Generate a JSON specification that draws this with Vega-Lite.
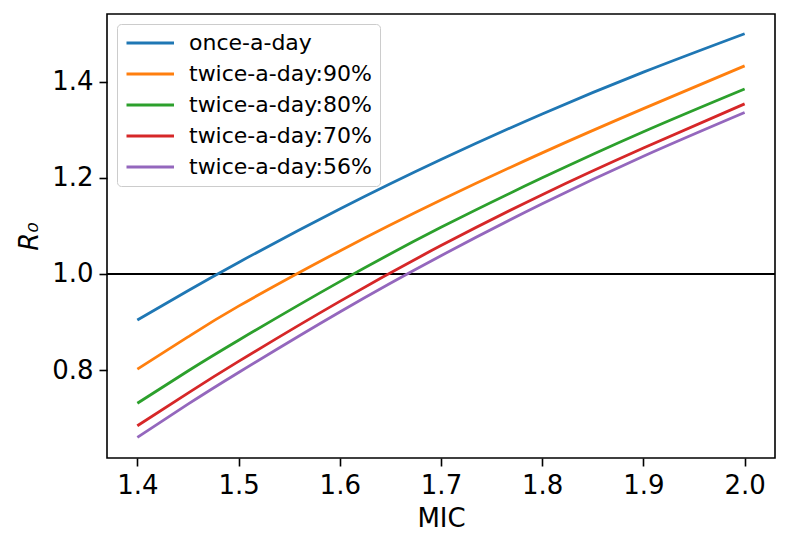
{
  "$schema": "https://vega.github.io/schema/vega-lite/v6.json",
  "width": 668,
  "height": 444,
  "autosize": {"type": "none"},
  "padding": {"left": 107, "top": 14, "right": 15, "bottom": 88},
  "background": "white",
  "config": {
    "font": "DejaVu Sans",
    "view": {"stroke": "black", "strokeWidth": 1.6},
    "axis": {
      "domain": false,
      "grid": false,
      "ticks": true,
      "tickColor": "black",
      "tickWidth": 1.6,
      "tickSize": 8,
      "labelFont": "DejaVu Sans",
      "labelFontSize": 26,
      "labelColor": "black",
      "labelPadding": 6,
      "titleFont": "DejaVu Sans",
      "titleFontSize": 26,
      "titleFontWeight": "normal",
      "titleColor": "black"
    }
  },
  "data": {
    "values": [
      {"MIC": 1.4, "R0": 0.904, "series": "once-a-day"},
      {"MIC": 1.45, "R0": 0.965, "series": "once-a-day"},
      {"MIC": 1.5, "R0": 1.024, "series": "once-a-day"},
      {"MIC": 1.6, "R0": 1.135, "series": "once-a-day"},
      {"MIC": 1.7, "R0": 1.238, "series": "once-a-day"},
      {"MIC": 1.8, "R0": 1.333, "series": "once-a-day"},
      {"MIC": 1.9, "R0": 1.42, "series": "once-a-day"},
      {"MIC": 2.0, "R0": 1.5, "series": "once-a-day"},
      {"MIC": 1.4, "R0": 0.802, "series": "twice-a-day:90%"},
      {"MIC": 1.45, "R0": 0.869, "series": "twice-a-day:90%"},
      {"MIC": 1.5, "R0": 0.933, "series": "twice-a-day:90%"},
      {"MIC": 1.6, "R0": 1.048, "series": "twice-a-day:90%"},
      {"MIC": 1.7, "R0": 1.154, "series": "twice-a-day:90%"},
      {"MIC": 1.8, "R0": 1.252, "series": "twice-a-day:90%"},
      {"MIC": 1.9, "R0": 1.344, "series": "twice-a-day:90%"},
      {"MIC": 2.0, "R0": 1.433, "series": "twice-a-day:90%"},
      {"MIC": 1.4, "R0": 0.731, "series": "twice-a-day:80%"},
      {"MIC": 1.45, "R0": 0.798, "series": "twice-a-day:80%"},
      {"MIC": 1.5, "R0": 0.862, "series": "twice-a-day:80%"},
      {"MIC": 1.6, "R0": 0.984, "series": "twice-a-day:80%"},
      {"MIC": 1.7, "R0": 1.097, "series": "twice-a-day:80%"},
      {"MIC": 1.8, "R0": 1.2, "series": "twice-a-day:80%"},
      {"MIC": 1.9, "R0": 1.296, "series": "twice-a-day:80%"},
      {"MIC": 2.0, "R0": 1.385, "series": "twice-a-day:80%"},
      {"MIC": 1.4, "R0": 0.684, "series": "twice-a-day:70%"},
      {"MIC": 1.45, "R0": 0.752, "series": "twice-a-day:70%"},
      {"MIC": 1.5, "R0": 0.818, "series": "twice-a-day:70%"},
      {"MIC": 1.6, "R0": 0.943, "series": "twice-a-day:70%"},
      {"MIC": 1.7, "R0": 1.059, "series": "twice-a-day:70%"},
      {"MIC": 1.8, "R0": 1.165, "series": "twice-a-day:70%"},
      {"MIC": 1.9, "R0": 1.262, "series": "twice-a-day:70%"},
      {"MIC": 2.0, "R0": 1.354, "series": "twice-a-day:70%"},
      {"MIC": 1.4, "R0": 0.66, "series": "twice-a-day:56%"},
      {"MIC": 1.45, "R0": 0.729, "series": "twice-a-day:56%"},
      {"MIC": 1.5, "R0": 0.795, "series": "twice-a-day:56%"},
      {"MIC": 1.6, "R0": 0.921, "series": "twice-a-day:56%"},
      {"MIC": 1.7, "R0": 1.038, "series": "twice-a-day:56%"},
      {"MIC": 1.8, "R0": 1.146, "series": "twice-a-day:56%"},
      {"MIC": 1.9, "R0": 1.245, "series": "twice-a-day:56%"},
      {"MIC": 2.0, "R0": 1.336, "series": "twice-a-day:56%"}
    ]
  },
  "layer": [
    {
      "mark": {"type": "rule", "color": "black", "strokeWidth": 1},
      "encoding": {"y": {"datum": 1.0, "type": "quantitative"}}
    },
    {
      "mark": {"type": "line", "strokeWidth": 2.8, "interpolate": "natural"},
      "encoding": {
        "x": {
          "field": "MIC",
          "type": "quantitative",
          "title": "MIC",
          "scale": {"domain": [1.37, 2.03], "nice": false, "zero": false},
          "axis": {"values": [1.4, 1.5, 1.6, 1.7, 1.8, 1.9, 2.0], "format": ".1f", "titlePadding": 7}
        },
        "y": {
          "field": "R0",
          "type": "quantitative",
          "title": "R₀",
          "scale": {"domain": [0.617, 1.541], "nice": false, "zero": false},
          "axis": {"values": [0.8, 1.0, 1.2, 1.4], "format": ".1f", "titlePadding": 9, "titleFontStyle": "italic"}
        },
        "color": {
          "field": "series",
          "type": "nominal",
          "scale": {
            "domain": ["once-a-day", "twice-a-day:90%", "twice-a-day:80%", "twice-a-day:70%", "twice-a-day:56%"],
            "range": ["#1f77b4", "#ff7f0e", "#2ca02c", "#d62728", "#9467bd"]
          },
          "legend": {
            "title": null,
            "orient": "top-left",
            "offset": 10,
            "padding": 8,
            "cornerRadius": 4,
            "strokeColor": "#cccccc",
            "fillColor": "white",
            "symbolType": "M-1,0H4",
            "symbolSize": 361,
            "symbolStrokeWidth": 3,
            "labelOffset": 42,
            "labelFont": "DejaVu Sans",
            "labelFontSize": 22,
            "labelColor": "black",
            "rowPadding": 9,
            "labelLimit": 400
          }
        }
      }
    }
  ]
}
